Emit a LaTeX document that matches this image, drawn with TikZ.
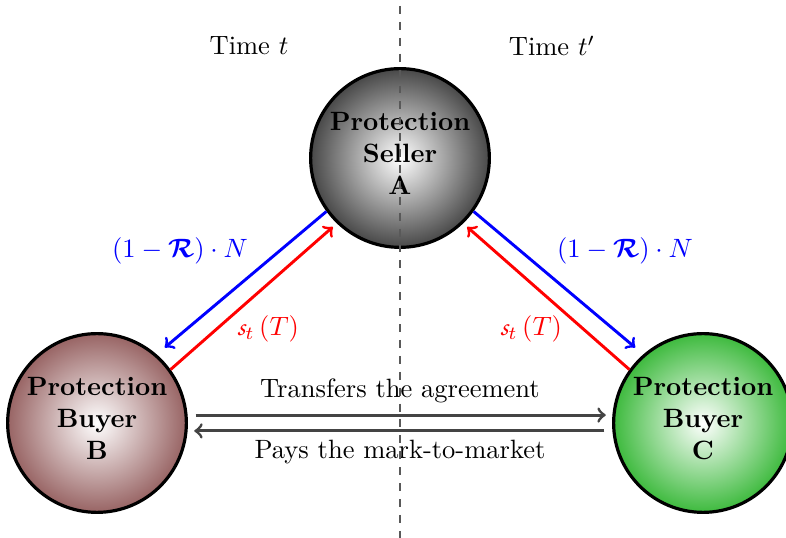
\documentclass[tikz,border=0pt]{standalone}
\usepackage{amsmath,bm}
\usetikzlibrary{calc}
\DeclareMathAlphabet{\mathpzc}{OT1}{pzc}{m}{it}

\definecolor{sellergray}{RGB}{72,72,72}
\definecolor{buyerB}{RGB}{152,100,100}
\definecolor{buyerC}{RGB}{62,186,62}
\definecolor{dealgray}{RGB}{68,68,68}

\begin{document}
\begin{tikzpicture}[x=0.013263cm,y=-0.013263cm,
  party/.style={circle, draw=black, line width=1.2pt, minimum size=2.37cm,
    inner sep=0pt, align=center, font=\bfseries, inner color=white},
  flow/.style={->, line width=1.1pt},
  deal/.style={->, line width=1.1pt, draw=dealgray, shorten <=3pt, shorten >=2.5pt},
  divider/.style={dashed, draw=black!65, line width=0.4pt},
  tag/.style={inner sep=1pt}]
\useasboundingbox (0,0) rectangle (786,538);

% time labels
\node[tag] (tleft)  at (249,46) {Time $t$};
\node[tag] (tright) at (552,46) {Time $t'$};

% counterparties
\node[party, outer color=sellergray] (A) at (400,158) {Protection\\Seller\\A\strut};
\node[party, outer color=buyerB]     (B) at (97,423)  {Protection\\Buyer\\B\strut};
\node[party, outer color=buyerC]     (C) at (703,423) {Protection\\Buyer\\C\strut};

% protection leg and premium leg
\draw[flow, blue, shorten >=4pt] (A.216) -- (B.49);
\draw[flow, red,  shorten >=2pt] (B.36)  -- (A.226);
\draw[flow, blue, shorten >=4pt] (A.324) -- (C.131);
\draw[flow, red,  shorten >=2pt] (C.144) -- (A.314);

\node[tag, text=blue] (lossL) at (180,251) {$(1-\bm{\mathcal{R}})\cdot N$};
\node[tag, text=blue] (lossR) at (625,251) {$(1-\bm{\mathcal{R}})\cdot N$};
\node[tag, text=red]  (premL) at (268,329) {$\mathpzc{s}_t\,(T)$};
\node[tag, text=red]  (premR) at (531,329) {$\mathpzc{s}_t\,(T)$};

% novation between B and C
\draw[deal] (B.5)   -- (C.175);
\draw[deal] (C.185) -- (B.355);
\node[tag] (transfer) at (400,391) {Transfers the agreement};
\node[tag] (mtm)      at (400,452) {Pays the mark-to-market};

% separation between the two dates
\coordinate (divtop) at (400,6);
\coordinate (divbot) at (400,538);
\draw[divider] (divtop) -- (divbot);
\end{tikzpicture}
\end{document}
